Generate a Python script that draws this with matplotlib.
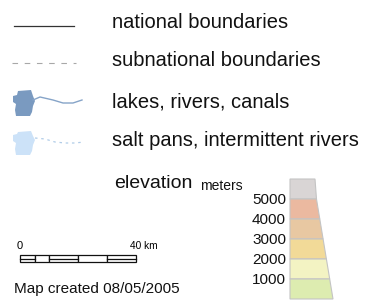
import matplotlib
matplotlib.use("Agg")
import matplotlib.pyplot as plt
from matplotlib.patches import Polygon, Rectangle

plt.rcParams["font.family"] = ["Liberation Sans", "DejaVu Sans"]

# --- legend content ---
legend_labels = ["national boundaries", "subnational boundaries",
                 "lakes, rivers, canals", "salt pans, intermittent rivers"]
elev_levels = [1000, 2000, 3000, 4000, 5000]
elev_colors = ["#ddecb0", "#f3f3c3", "#f2da98", "#e8c8a2", "#ebb9a0", "#d9d5d5"]
scale_km = [0, 5, 10, 20, 30, 40]
map_date = "08/05/2005"

fig = plt.figure(figsize=(3.72, 3.01), dpi=100)
ax = fig.add_axes([0, 0, 1, 1])
ax.set_xlim(0, 372); ax.set_ylim(301, 0); ax.axis("off")

# legend rows
row_y = [22, 61, 102, 141]
for y, lab in zip(row_y, legend_labels):
    ax.text(112, y, lab, fontsize=14.5, va="center", ha="left", color="#111111")

ax.plot([14, 74], [26, 26], color="#333333", lw=0.9)
ax.plot([12, 76], [63, 63], color="#a8a8a8", lw=0.8, dashes=(5, 6))

# lake + river
lake = [(18, 91), (31, 90), (33, 96), (35, 101), (33, 106), (32, 112), (30, 116),
        (16, 116), (15, 110), (16, 104), (13, 102), (13, 96), (17, 95)]
ax.add_patch(Polygon(lake, closed=True, fc="#7a9ac0", ec="none"))
ax.plot([33, 40, 53, 63, 73, 82], [100, 97, 100, 103, 103, 100], color="#86a4c8", lw=1.0)

# salt pan + intermittent river
salt = [(18, 132), (31, 131), (33, 136), (35, 140), (33, 145), (32, 151), (30, 155),
        (16, 155), (15, 149), (16, 143), (13, 141), (13, 135), (17, 134)]
ax.add_patch(Polygon(salt, closed=True, fc="#cce2f8", ec="none"))
ax.plot([35, 45, 55, 65, 75, 84], [138, 139, 142, 143, 143, 142],
        color="#b0cce8", lw=0.9, dashes=(2, 3))

# elevation ramp
ax.text(114, 184, "elevation", fontsize=14, va="center", ha="left", color="#111111")
ax.text(200, 186, "meters", fontsize=10, va="center", ha="left", color="#111111")
top, step = 179, 20
edges = [top + i * step for i in range(len(elev_colors) + 1)]
def right(y):
    return 315 + max(0, y - 190) * 18 / 109
for i, c in enumerate(reversed(elev_colors)):
    y0, y1 = edges[i], edges[i + 1]
    poly = [(290, y0), (right(y0), y0), (right(y1), y1), (290, y1)]
    ax.add_patch(Polygon(poly, closed=True, fc=c, ec="#c4c4c4", lw=0.8))
for i, v in enumerate(reversed(elev_levels)):
    ax.text(286, edges[i + 1] + 1, str(v), fontsize=11, ha="right", va="center",
            color="#111111")

# scale bar
x0, x1, yb, hb = 20, 136, 255, 7
px = (x1 - x0) / scale_km[-1]
for i in range(len(scale_km) - 1):
    a, b = x0 + scale_km[i] * px, x0 + scale_km[i + 1] * px
    ax.add_patch(Rectangle((a, yb), b - a, hb, fc="white", ec="#111111", lw=0.9))
    if i % 2 == 0:
        ax.plot([a, b], [yb + hb / 2, yb + hb / 2], color="#111111", lw=0.9)
ax.text(x0, 246, str(scale_km[0]), fontsize=8, ha="center", va="center")
ax.text(x1 - 6, 246, f"{scale_km[-1]} km", fontsize=7.3, ha="left", va="center")

ax.text(14, 289, f"Map created {map_date}", fontsize=11, ha="left", va="center",
        color="#111111")

fig.savefig("out.png", dpi=100)
